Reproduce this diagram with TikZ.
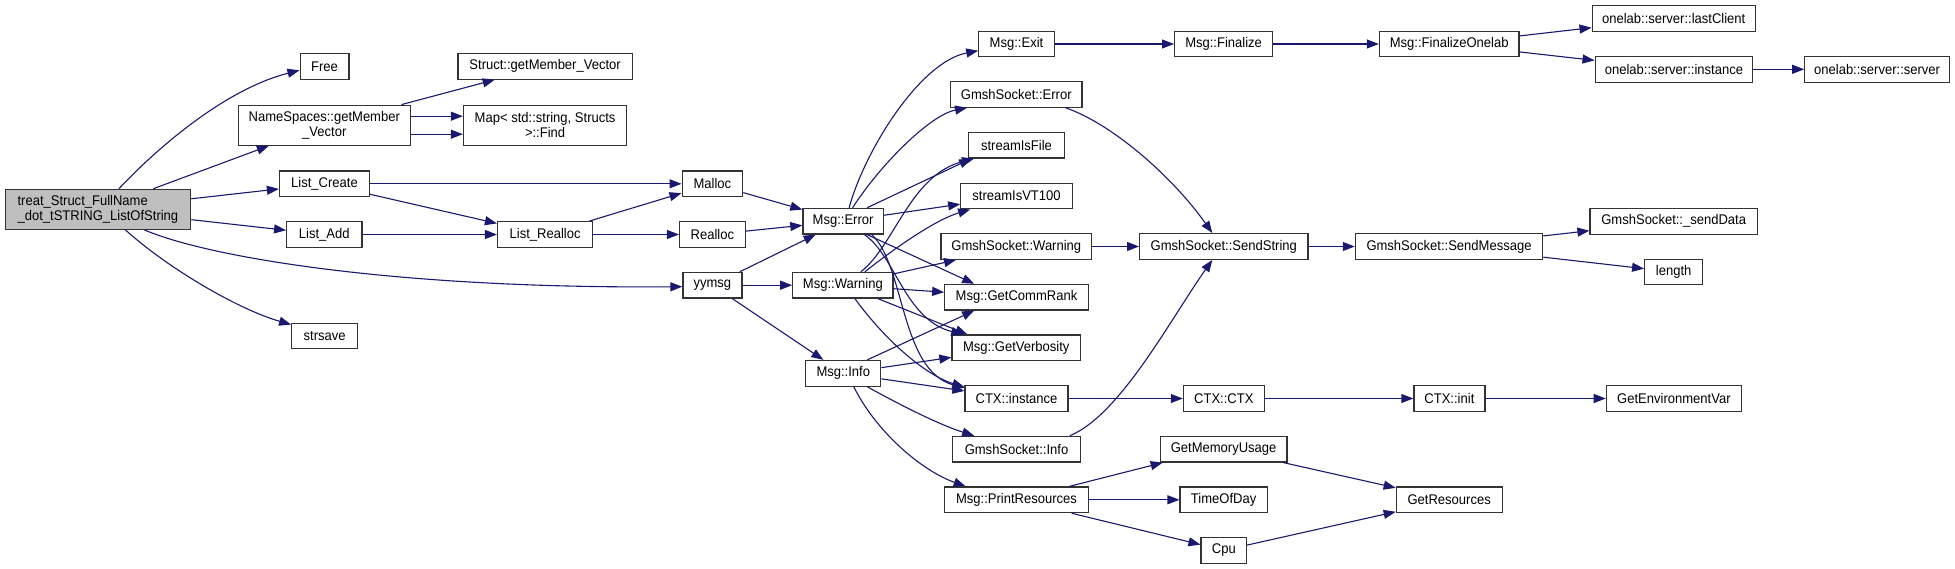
\documentclass[tikz,border=0pt]{standalone}
\usepackage{fontspec}
\newfontfamily\dox{Liberation Sans}[FakeStretch=0.93]
\usetikzlibrary{arrows.meta}
\definecolor{mblue}{RGB}{25,25,112}
\definecolor{rootgray}{RGB}{191,191,191}
\begin{document}
\begin{tikzpicture}[x=1pt,y=-1pt,
  box/.style={draw=black!80, line width=1.2pt, inner sep=0pt, minimum height=25.7pt, fill=white,
              font=\dox\fontsize{14}{15}\selectfont, text=black},
  twoline/.style={box, minimum height=40pt, align=center},
  root/.style={twoline, fill=rootgray, align=left},
  e/.style={draw=mblue, line width=1.1pt, -{Triangle[length=12pt,width=9pt]}}]
\useasboundingbox (0,0) rectangle (1955,569);
\fill[white] (0,0) rectangle (1955,569);
% column 0
\node[root, minimum width=185.6pt] (treat) at (97.9,209.3) {treat\_Struct\_FullName\\\_dot\_tSTRING\_ListOfString};
% column 1
\node[box, minimum width=48.8pt] (free) at (324.5,66.3) {Free};
\node[twoline, minimum width=172pt] (nsget) at (324.3,125.2) {NameSpaces::getMember\\\_Vector};
\node[box, minimum width=90pt] (listcreate) at (324.5,183.8) {List\_Create};
\node[box, minimum width=75.3pt] (listadd) at (324.3,234.5) {List\_Add};
\node[box, minimum width=66pt] (strsave) at (324.7,336) {strsave};
% column 2
\node[box, minimum width=174.3pt] (structget) at (545.1,66.3) {Struct::getMember\_Vector};
\node[twoline, minimum width=163.3pt] (mapfind) at (545.1,125.2) {Map< std::string, Structs\\>::Find};
\node[box, minimum width=95.2pt] (listrealloc) at (545.1,234.5) {List\_Realloc};
% column 3
\node[box, minimum width=60.6pt] (malloc) at (712.4,183.8) {Malloc};
\node[box, minimum width=65.7pt] (realloc) at (712.4,234.5) {Realloc};
\node[box, minimum width=59pt] (yymsg) at (712.4,285.2) {yymsg};
% column 4
\node[box, minimum width=80.4pt] (msgerror) at (843.1,221.2) {Msg::Error};
\node[box, minimum width=100.2pt] (msgwarning) at (842.9,285.2) {Msg::Warning};
\node[box, minimum width=75pt] (msginfo) at (843.3,373.3) {Msg::Info};
% column 5
\node[box, minimum width=75.4pt] (msgexit) at (1016.5,44) {Msg::Exit};
\node[box, minimum width=131.3pt] (gserror) at (1016.3,94.3) {GmshSocket::Error};
\node[box, minimum width=95.6pt] (sfile) at (1016.5,145.2) {streamIsFile};
\node[box, minimum width=111.5pt] (svt) at (1016.5,196) {streamIsVT100};
\node[box, minimum width=150.7pt] (gswarning) at (1016.3,246.5) {GmshSocket::Warning};
\node[box, minimum width=143.5pt] (commrank) at (1016.5,297.2) {Msg::GetCommRank};
\node[box, minimum width=128.8pt] (verbosity) at (1016.3,347.8) {Msg::GetVerbosity};
\node[box, minimum width=103pt] (ctxinst) at (1016.5,398.5) {CTX::instance};
\node[box, minimum width=127.5pt] (gsinfo) at (1016.5,449.2) {GmshSocket::Info};
\node[box, minimum width=143.5pt] (printres) at (1016.5,499.8) {Msg::PrintResources};
% column 6
\node[box, minimum width=98pt] (finalize) at (1223.6,44) {Msg::Finalize};
\node[box, minimum width=168.4pt] (sendstring) at (1223.8,246.5) {GmshSocket::SendString};
\node[box, minimum width=80.8pt] (ctxctx) at (1223.8,398.5) {CTX::CTX};
\node[box, minimum width=126.7pt] (getmem) at (1223.6,449.2) {GetMemoryUsage};
\node[box, minimum width=87.1pt] (timeofday) at (1223.6,499.8) {TimeOfDay};
\node[box, minimum width=45.5pt] (cpu) at (1223.8,550.3) {Cpu};
% column 7
\node[box, minimum width=139.5pt] (finonelab) at (1449.2,44) {Msg::FinalizeOnelab};
\node[box, minimum width=187.3pt] (sendmessage) at (1449,246.5) {GmshSocket::SendMessage};
\node[box, minimum width=71pt] (ctxinit) at (1449.4,398.5) {CTX::init};
\node[box, minimum width=105.9pt] (getres) at (1449.2,499.8) {GetResources};
% column 8
\node[box, minimum width=163.2pt] (lastclient) at (1673.7,18.3) {onelab::server::lastClient};
\node[box, minimum width=157.6pt] (olinst) at (1673.9,69.3) {onelab::server::instance};
\node[box, minimum width=167.4pt] (senddata) at (1673.7,221.3) {GmshSocket::\_sendData};
\node[box, minimum width=58.1pt] (length) at (1673.7,272) {length};
\node[box, minimum width=135.2pt] (getenv) at (1673.9,398.5) {GetEnvironmentVar};
% column 9
\node[box, minimum width=144.6pt] (olserver) at (1877.1,69.3) {onelab::server::server};

% edges from root
\draw[e] ([xshift=21pt]treat.north) .. controls (165,140) and (230,88) .. ([yshift=-4pt]free.west);
\draw[e] (treat) -- (nsget);
\draw[e] (treat) -- (listcreate);
\draw[e] (treat) -- (listadd);
\draw[e] ([xshift=46.5pt]treat.south) .. controls (210,258) and (400,289) .. ([yshift=-1.5pt]yymsg.west);
\draw[e] ([xshift=27.5pt]treat.south) .. controls (170,270) and (240,310) .. ([yshift=-2pt]strsave.north west);
% column 1 out
\draw[e] (nsget) -- (structget);
\draw[e] ([yshift=9pt]nsget.east) -- ([yshift=9pt]mapfind.west);
\draw[e] ([yshift=-9pt]nsget.east) -- ([yshift=-9pt]mapfind.west);
\draw[e] (listcreate) -- (malloc);
\draw[e] (listcreate) -- (listrealloc);
\draw[e] (listadd) -- (listrealloc);
% column 2/3 out
\draw[e] (listrealloc) -- (malloc);
\draw[e] (listrealloc) -- (realloc);
\draw[e] (malloc) -- (msgerror);
\draw[e] (realloc) -- (msgerror);
\draw[e] (yymsg) -- (msgerror);
\draw[e] (yymsg) -- (msgwarning);
\draw[e] (yymsg) -- (msginfo);
% Msg::Error
\draw[e] ([xshift=6pt]msgerror.north) .. controls (865,150) and (920,62) .. ([yshift=-6.7pt]msgexit.west);
\draw[e] ([xshift=9.5pt]msgerror.north) .. controls (880,165) and (930,115) .. ([xshift=17pt]gserror.south west);
\draw[e] ([xshift=24pt]msgerror.north) -- ([xshift=3pt]sfile.south west);
\draw[e] (msgerror) -- (svt);
\draw[e] ([xshift=24pt]msgerror.south) -- ([xshift=30pt]commrank.north west);
\draw[e] ([xshift=21.3pt]msgerror.south) .. controls (895,255) and (905,320) .. ([xshift=12pt]verbosity.north west);
\draw[e] ([xshift=28.6pt]msgerror.south) .. controls (905,265) and (900,370) .. ([yshift=-3pt]ctxinst.north west);
% Msg::Warning
\draw[e] ([xshift=18pt]msgwarning.north) .. controls (895,245) and (910,175) .. ([xshift=6pt]sfile.south west);
\draw[e] ([xshift=22pt]msgwarning.north) .. controls (895,248) and (935,220) .. ([xshift=10pt]svt.south west);
\draw[e] (msgwarning) -- (gswarning);
\draw[e] (msgwarning) -- (commrank);
\draw[e] ([xshift=35pt]msgwarning.south) -- ([xshift=16pt]verbosity.north west);
\draw[e] ([xshift=12pt]msgwarning.south) .. controls (885,340) and (925,375) .. ([yshift=-2pt]ctxinst.north west);
% Msg::Info
\draw[e] ([xshift=24pt]msginfo.north) -- ([xshift=30pt]commrank.south west);
\draw[e] (msginfo) -- (verbosity);
\draw[e] (msginfo) -- (ctxinst);
\draw[e] ([xshift=24pt]msginfo.south) .. controls (900,405) and (940,425) .. ([xshift=22pt]gsinfo.north west);
\draw[e] ([xshift=10.5pt]msginfo.south) .. controls (875,430) and (920,470) .. ([xshift=21.5pt]printres.north west);
% column 5 out
\draw[e] (msgexit) -- (finalize);
\draw[e] ([xshift=-17pt]gserror.south east) .. controls (1115,125) and (1175,180) .. ([xshift=-11.5pt]sendstring.north);
\draw[e] (gswarning) -- (sendstring);
\draw[e] ([xshift=-11pt]gsinfo.north east) .. controls (1120,415) and (1170,320) .. ([xshift=-11.5pt]sendstring.south);
\draw[e] (ctxinst) -- (ctxctx);
\draw[e] (printres) -- ([xshift=3pt]getmem.south west);
\draw[e] (printres) -- (timeofday);
\draw[e] (printres) -- (cpu);
% column 6 out
\draw[e] (finalize) -- (finonelab);
\draw[e] (sendstring) -- (sendmessage);
\draw[e] (ctxctx) -- (ctxinit);
\draw[e] (getmem) -- (getres);
\draw[e] (cpu) -- (getres);
% column 7 out
\draw[e] (finonelab) -- (lastclient);
\draw[e] (finonelab) -- (olinst);
\draw[e] (sendmessage) -- (senddata);
\draw[e] (sendmessage) -- (length);
\draw[e] (ctxinit) -- (getenv);
% column 8 out
\draw[e] (olinst) -- (olserver);
\end{tikzpicture}
\end{document}
